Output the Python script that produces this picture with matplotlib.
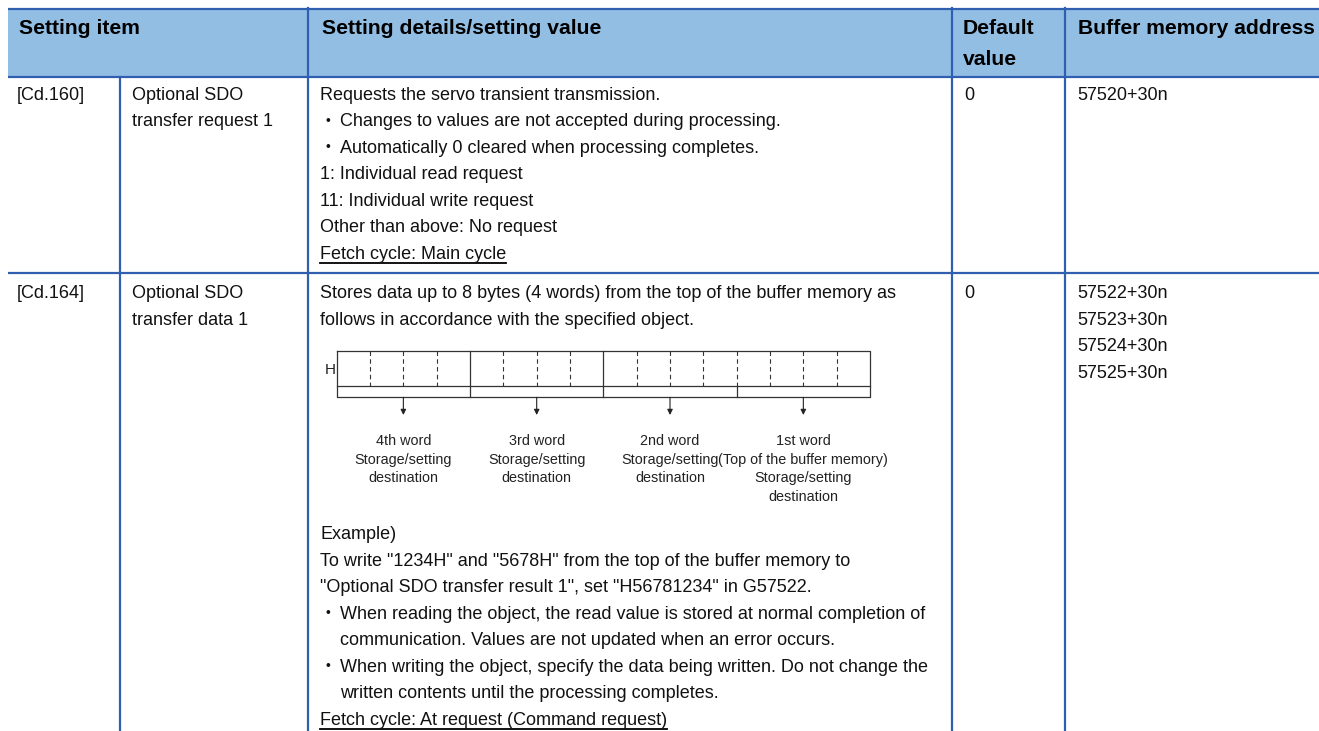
import matplotlib.pyplot as plt

# table content
header = ['Setting item', 'Setting details/setting value', 'Default\nvalue', 'Buffer memory address']
item_codes = ['[Cd.160]', '[Cd.164]']
item_names = [['Optional SDO', 'transfer request 1'], ['Optional SDO', 'transfer data 1']]
defaults = ['0', '0']
addresses = [['57520+30n'], ['57522+30n', '57523+30n', '57524+30n', '57525+30n']]

# (text, bullet?, indent?, underline?)
details_1 = [
    ('Requests the servo transient transmission.', False, False, False),
    ('Changes to values are not accepted during processing.', True, False, False),
    ('Automatically 0 cleared when processing completes.', True, False, False),
    ('1: Individual read request', False, False, False),
    ('11: Individual write request', False, False, False),
    ('Other than above: No request', False, False, False),
    ('Fetch cycle: Main cycle', False, False, True),
]
details_2_top = [
    'Stores data up to 8 bytes (4 words) from the top of the buffer memory as',
    'follows in accordance with the specified object.',
]
details_2_bottom = [
    ('Example)', False, False, False),
    ('To write "1234H" and "5678H" from the top of the buffer memory to', False, False, False),
    ('"Optional SDO transfer result 1", set "H56781234" in G57522.', False, False, False),
    ('When reading the object, the read value is stored at normal completion of', True, False, False),
    ('communication. Values are not updated when an error occurs.', False, True, False),
    ('When writing the object, specify the data being written. Do not change the', True, False, False),
    ('written contents until the processing completes.', False, True, False),
    ('Fetch cycle: At request (Command request)', False, False, True),
]
word_labels = [
    ['4th word', 'Storage/setting', 'destination'],
    ['3rd word', 'Storage/setting', 'destination'],
    ['2nd word', 'Storage/setting', 'destination'],
    ['1st word', '(Top of the buffer memory)', 'Storage/setting', 'destination'],
]

plt.rcParams['font.family'] = ['Liberation Sans', 'DejaVu Sans']
BLUE = '#2f5fae'
HEAD_FILL = '#93bee4'
BODY_FS = 13
HEAD_FS = 15.2
SMALL_FS = 10.4
LINE = 26.5

fig = plt.figure(figsize=(13.19, 7.31), dpi=100)
ax = fig.add_axes([0, 0, 1, 1])
ax.set_xlim(0, 1319)
ax.set_ylim(731, 0)
ax.axis('off')

cols = [8, 120, 308, 952, 1065]
head_top, head_bot, row_div = 9.3, 77.3, 273.3

# header band and grid
ax.add_patch(plt.Rectangle((8, head_top), 1319 - 8, head_bot - head_top, color=HEAD_FILL, lw=0))
for y in [head_top, head_bot, row_div]:
    ax.plot([8, 1319], [y, y], color=BLUE, lw=1.6, solid_capstyle='butt')
for x in cols[2:]:
    ax.plot([x, x], [head_top - 1, 731], color=BLUE, lw=1.6)
ax.plot([cols[1], cols[1]], [head_bot, 731], color=BLUE, lw=1.6)


def body(x, y, s, fs=BODY_FS, **kw):
    # y is the visual middle of the capitals
    return ax.text(x, y + 0.358 * fs * 100 / 72, s, fontsize=fs, va='baseline', color='#111111', **kw)


texts_to_underline = []


def detail_block(lines, y0):
    y = y0
    for s, bullet, indent, under in lines:
        if bullet:
            body(325, y, '•', fs=10)
            body(340, y, s)
        elif indent:
            body(340, y, s)
        else:
            t = body(320, y, s)
            if under:
                texts_to_underline.append(t)
        y += LINE


# header text
hy = 26.7
ax.text(19, hy + 7.6, header[0], fontsize=HEAD_FS, fontweight='bold', va='baseline')
ax.text(322, hy + 7.6, header[1], fontsize=HEAD_FS, fontweight='bold', va='baseline')
for i, s in enumerate(header[2].split('\n')):
    ax.text(963, hy + 7.6 + i * 30.6, s, fontsize=HEAD_FS, fontweight='bold', va='baseline')
ax.text(1078, hy + 7.6, header[3], fontsize=HEAD_FS, fontweight='bold', va='baseline')

# rows
row_y = [93.3, 291.7]
for r in range(2):
    body(17, row_y[r], item_codes[r])
    for i, s in enumerate(item_names[r]):
        body(132, row_y[r] + i * LINE, s)
    body(964, row_y[r], defaults[r])
    for i, s in enumerate(addresses[r]):
        body(1077, row_y[r] + i * LINE, s)

detail_block(details_1, row_y[0])
for i, s in enumerate(details_2_top):
    body(320, row_y[1] + i * LINE, s)
detail_block(details_2_bottom, 533)

# word layout diagram
bx0, bx1, by0, by1, by2 = 336.7, 870, 350.7, 385.7, 397.3
cell = (bx1 - bx0) / 16
ax.plot([bx0, bx1, bx1, bx0, bx0], [by0, by0, by2, by2, by0], color='#333333', lw=0.9)
ax.plot([bx0, bx1], [by1, by1], color='#333333', lw=0.9)
for k in range(1, 16):
    x = bx0 + k * cell
    if k in (4, 8):
        ax.plot([x, x], [by0, by2], color='#333333', lw=0.9)
    else:
        ax.plot([x, x], [by0, by1], color='#333333', lw=0.8, ls=(0, (4, 3)))
ax.plot([bx0 + 12 * cell] * 2, [by1, by2], color='#333333', lw=0.9)
ax.text(bx0 - 1, (by0 + by1) / 2 + 5.5, 'H', fontsize=11, ha='right', va='baseline', color='#222222')
for w in range(4):
    xc = bx0 + (w * 4 + 2) * cell
    ax.annotate('', xy=(xc, 415), xytext=(xc, by2),
                arrowprops=dict(arrowstyle='-|>', mutation_scale=8, lw=0.8, color='#222222',
                                shrinkA=0, shrinkB=0))
    for i, s in enumerate(word_labels[w]):
        ax.text(xc, 440 + i * 18.5 + 5.2, s, fontsize=SMALL_FS, ha='center', va='baseline', color='#222222')

# underlines for the fetch cycle lines
fig.canvas.draw()
inv = ax.transData.inverted()
for t in texts_to_underline:
    bb = t.get_window_extent()
    (x0, _), (x1, _) = inv.transform([[bb.x0, bb.y0], [bb.x1, bb.y0]])
    ty = t.get_position()[1]
    ax.plot([x0, x1], [ty + 4, ty + 4], color='black', lw=1.3)

fig.savefig('out.png', dpi=100)
